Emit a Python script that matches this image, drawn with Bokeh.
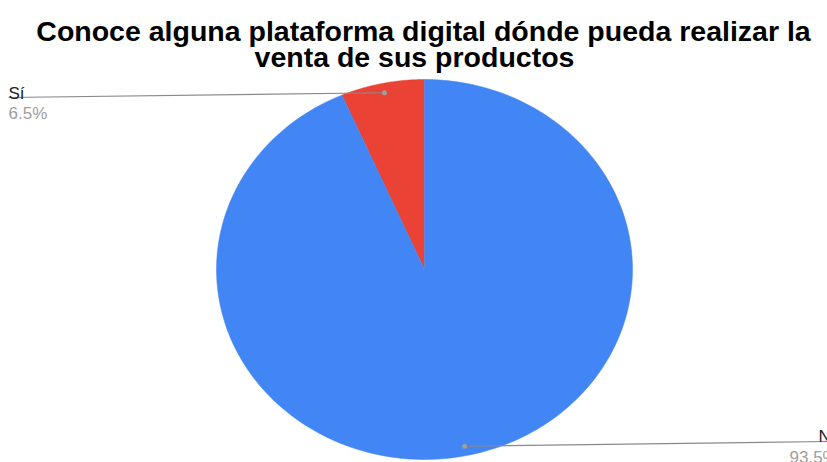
import numpy as np
from bokeh.plotting import figure
from bokeh.models import Range1d
from bokeh.core.properties import value
from bokeh.embed import file_html
from bokeh.resources import INLINE

title_lines = ["Conoce alguna plataforma digital dónde pueda realizar la", "venta de sus productos"]
categories = ["Sí", "No"]
values = [6.5, 93.5]
colors = ["#ea4335", "#4285f4"]

W, H = 827, 462
CX, CY, RX, RY = 424, 269, 208, 190

def px(x):
    return (x - CX) / RX

def py(y):
    return (CY - y) / RY

p = figure(width=W, height=H, output_backend="svg", toolbar_location=None,
           x_range=Range1d(px(0), px(W)), y_range=Range1d(py(H), py(0)),
           min_border=0, outline_line_color=None)
p.axis.visible = False
p.grid.visible = False
p.background_fill_color = "white"
p.border_fill_color = "white"

total = sum(values)
start = 0.0
mids = []
for v, c in zip(values, colors):
    frac0 = start / total
    frac1 = (start + v) / total
    th = np.linspace(frac0, frac1, 200) * 2 * np.pi
    xs = np.concatenate([[0], -np.sin(th), [0]])
    ys = np.concatenate([[0], np.cos(th), [0]])
    p.patch(xs, ys, fill_color=c, line_color=c, line_width=0.5)
    mids.append((frac0 + frac1) / 2 * 2 * np.pi)
    start += v

# leader lines
dot_x = [-np.sin(m) * 0.95 for m in mids]
dot_y = [np.cos(m) * 0.95 for m in mids]
end_x = [px(8), px(W)]
end_y = [py(97), py(441)]
for i in range(2):
    p.line([dot_x[i], end_x[i]], [dot_y[i], end_y[i]], line_color="#8a8a8a", line_width=1.2)
p.scatter(dot_x, dot_y, size=5, fill_color="#9e9e9e", line_color=None)

font = value("Liberation Sans")
# labels
p.text([px(8)], [py(93)], text=[categories[0]], text_font=font, text_font_size="17px",
       text_color="#222222", text_baseline="alphabetic", text_align="left")
p.text([px(8)], [py(113)], text=[f"{values[0]}%"], text_font=font, text_font_size="17px",
       text_color="#9e9e9e", text_baseline="alphabetic", text_align="left")
p.text([px(818)], [py(436)], text=["No"], text_font=font, text_font_size="17px",
       text_color="#222222", text_baseline="alphabetic", text_align="left")
p.text([px(789)], [py(457)], text=[f"{values[1]}%"], text_font=font, text_font_size="17px",
       text_color="#9e9e9e", text_baseline="alphabetic", text_align="left")

# title
p.text([px(423)], [py(30)], text=[title_lines[0]], text_font=font, text_font_size="28.5px",
       text_font_style="bold", text_color="#000000", text_baseline="alphabetic", text_align="center")
p.text([px(414)], [py(56)], text=[title_lines[1]], text_font=font, text_font_size="28.5px",
       text_font_style="bold", text_color="#000000", text_baseline="alphabetic", text_align="center")

open("out.html", "w").write(file_html(p, INLINE))
